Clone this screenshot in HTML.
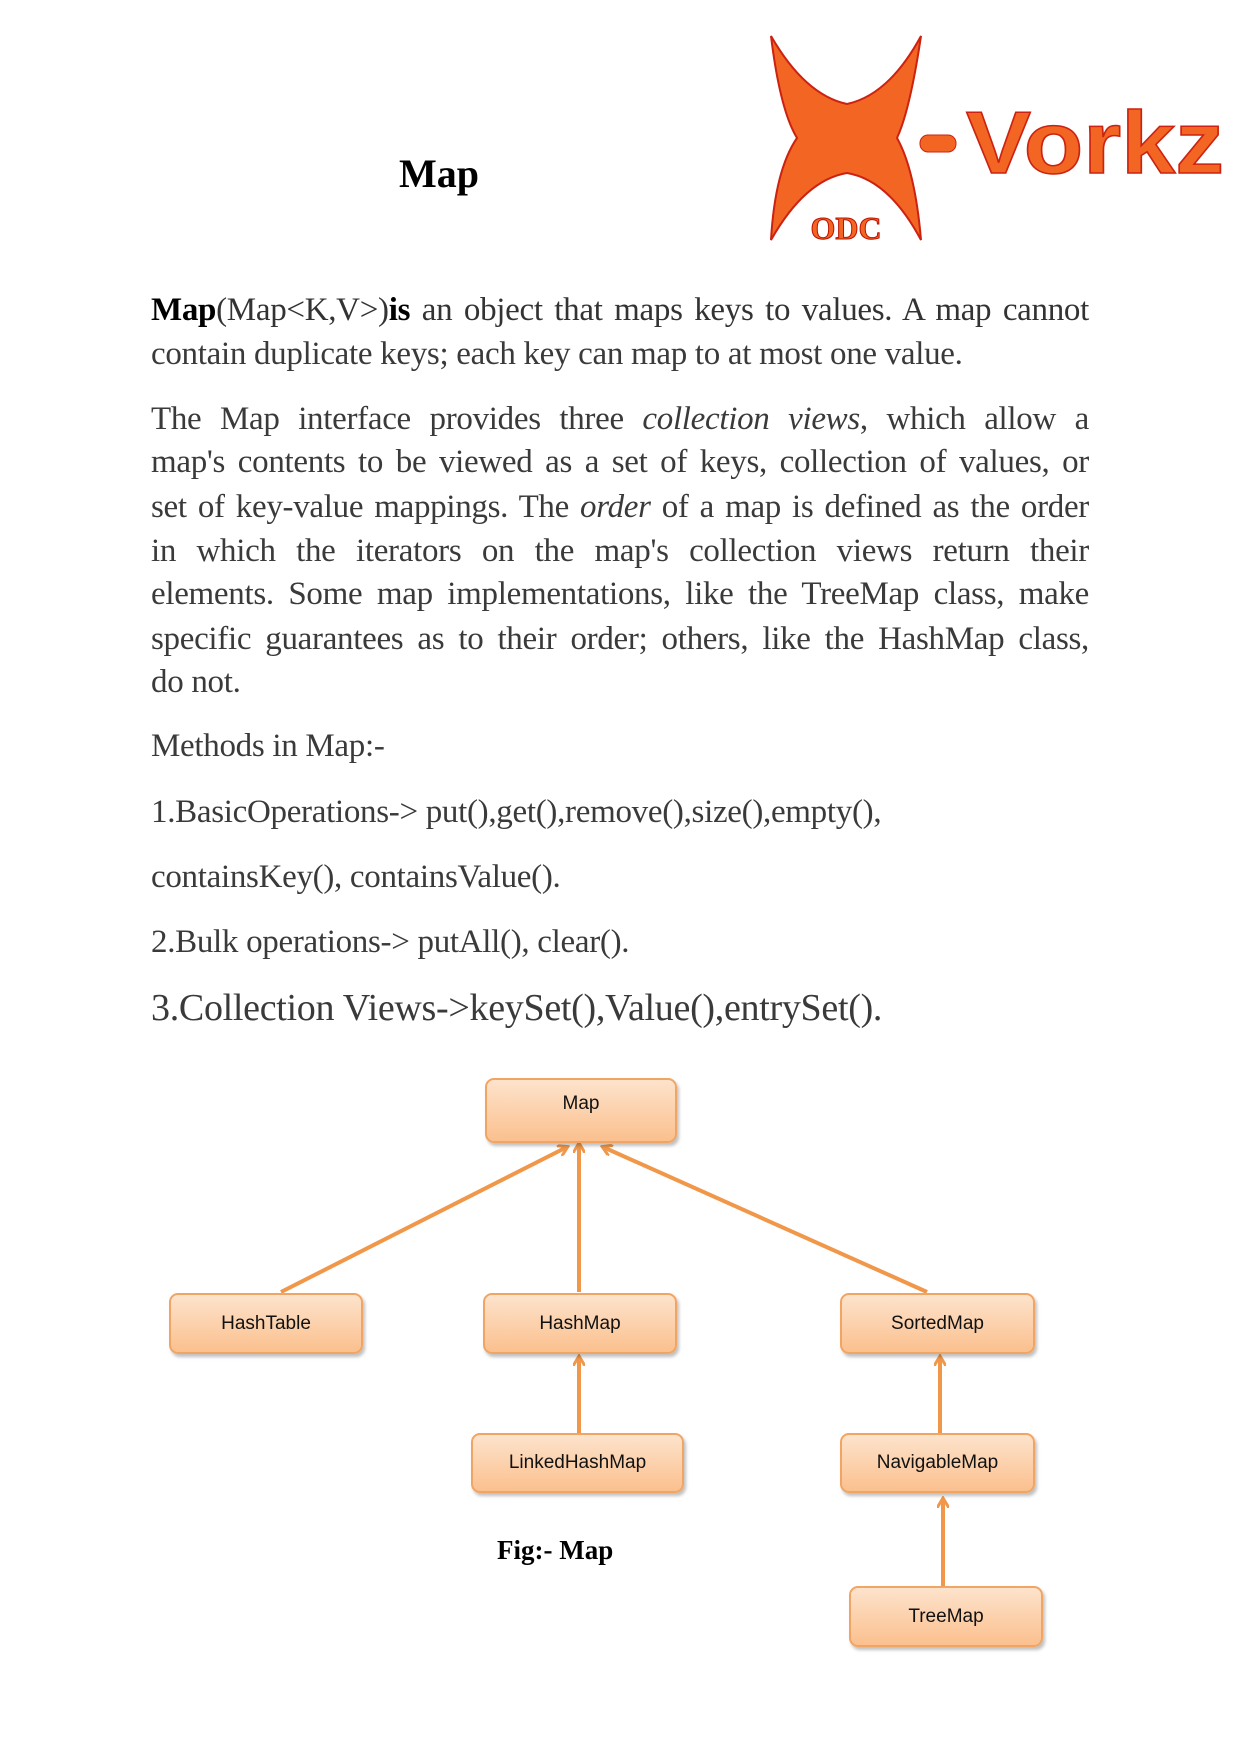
<!DOCTYPE html>
<html><head><meta charset="utf-8"><style>
body{margin:0;width:1240px;height:1755px;background:#fff;position:relative;overflow:hidden;font-family:"Liberation Serif",serif;color:#3a3a3a}
.l{position:absolute;left:151px;width:938px;font-size:33px;line-height:38px;white-space:nowrap;letter-spacing:-0.3px}
.j{text-align:justify;text-align-last:justify;white-space:normal}
.box{position:absolute;box-sizing:border-box;border:2px solid #f0a565;border-radius:9px;background:linear-gradient(#fde3cc,#fbc08e);box-shadow:2px 3px 3px rgba(0,0,0,.25);font-family:"Liberation Sans",sans-serif;font-size:19px;color:#111;display:flex;align-items:center;justify-content:center}
</style></head><body>
<div style="position:absolute;left:399px;top:150px;font-size:40px;font-weight:bold;color:#000">Map</div>
<svg style="position:absolute;left:760px;top:30px" width="475" height="220" viewBox="0 0 475 220">
<path d="M11 6 Q45 65 87 74 Q129 65 161 6 Q150 80 137 108 Q155 140 161 210 Q129 150 87 143 Q45 150 11 210 Q15 140 37 108 Q20 80 11 6Z" fill="#f26522" stroke="#c21" stroke-width="2"/>
<text x="86" y="209" font-family="Liberation Serif" font-weight="bold" font-size="32" fill="#f26522" stroke="#b10" stroke-width="1" text-anchor="middle">ODC</text>
<rect x="160" y="105" width="36" height="17" rx="8" fill="#f26522" stroke="#c21"/>
<text x="206" y="143" font-family="Liberation Sans" font-weight="bold" font-size="88" textLength="258" lengthAdjust="spacingAndGlyphs" fill="#f26522" stroke="#c21" stroke-width="1.5">Vorkz</text>
</svg>
<div class="l j" style="top:291px;color:#333"><b style="color:#000">Map</b>(Map&lt;K,V&gt;)<b style="color:#000">is</b> an object that maps keys to values. A map cannot</div>
<div class="l" style="top:335px">contain duplicate keys; each key can map to at most one value.</div>
<div class="l j" style="top:400px">The Map interface provides three <i>collection views</i>, which allow a</div>
<div class="l j" style="top:443px">map's contents to be viewed as a set of keys, collection of values, or</div>
<div class="l j" style="top:488px">set of key-value mappings. The <i>order</i> of a map is defined as the order</div>
<div class="l j" style="top:532px">in which the iterators on the map's collection views return their</div>
<div class="l j" style="top:575px">elements. Some map implementations, like the TreeMap class, make</div>
<div class="l j" style="top:620px">specific guarantees as to their order; others, like the HashMap class,</div>
<div class="l" style="top:663px">do not.</div>
<div class="l" style="top:727px">Methods in Map:-</div>
<div class="l" style="top:793px">1.BasicOperations-&gt; put(),get(),remove(),size(),empty(),</div>
<div class="l" style="top:858px">containsKey(), containsValue().</div>
<div class="l" style="top:923px">2.Bulk operations-&gt; putAll(), clear().</div>
<div class="l" style="top:987px;font-size:38px;line-height:42px">3.Collection Views-&gt;keySet(),Value(),entrySet().</div>
<svg style="position:absolute;left:0;top:0" width="1240" height="1755">
<defs><marker id="a" markerWidth="12" markerHeight="12" refX="9" refY="6" orient="auto" markerUnits="userSpaceOnUse"><path d="M0 0 L10 6 L0 12" fill="none" stroke="#f0974a" stroke-width="3"/></marker></defs>
<g stroke="#f0974a" stroke-width="4" marker-end="url(#a)">
<line x1="281" y1="1292" x2="567" y2="1147"/>
<line x1="579" y1="1292" x2="579" y2="1144"/>
<line x1="927" y1="1292" x2="603" y2="1147"/>
<line x1="579" y1="1433" x2="579" y2="1357"/>
<line x1="940" y1="1433" x2="940" y2="1357"/>
<line x1="943" y1="1586" x2="943" y2="1499"/>
</g></svg>
<div class="box" style="left:485px;top:1078px;width:192px;height:65px;padding-bottom:14px">Map</div>
<div class="box" style="left:169px;top:1293px;width:194px;height:61px">HashTable</div>
<div class="box" style="left:483px;top:1293px;width:194px;height:61px">HashMap</div>
<div class="box" style="left:840px;top:1293px;width:195px;height:61px">SortedMap</div>
<div class="box" style="left:471px;top:1433px;width:213px;height:60px">LinkedHashMap</div>
<div class="box" style="left:840px;top:1433px;width:195px;height:60px">NavigableMap</div>
<div class="box" style="left:849px;top:1586px;width:194px;height:61px">TreeMap</div>
<div style="position:absolute;left:497px;top:1535px;font-size:27px;font-weight:bold;color:#000">Fig:- Map</div>
</body></html>
